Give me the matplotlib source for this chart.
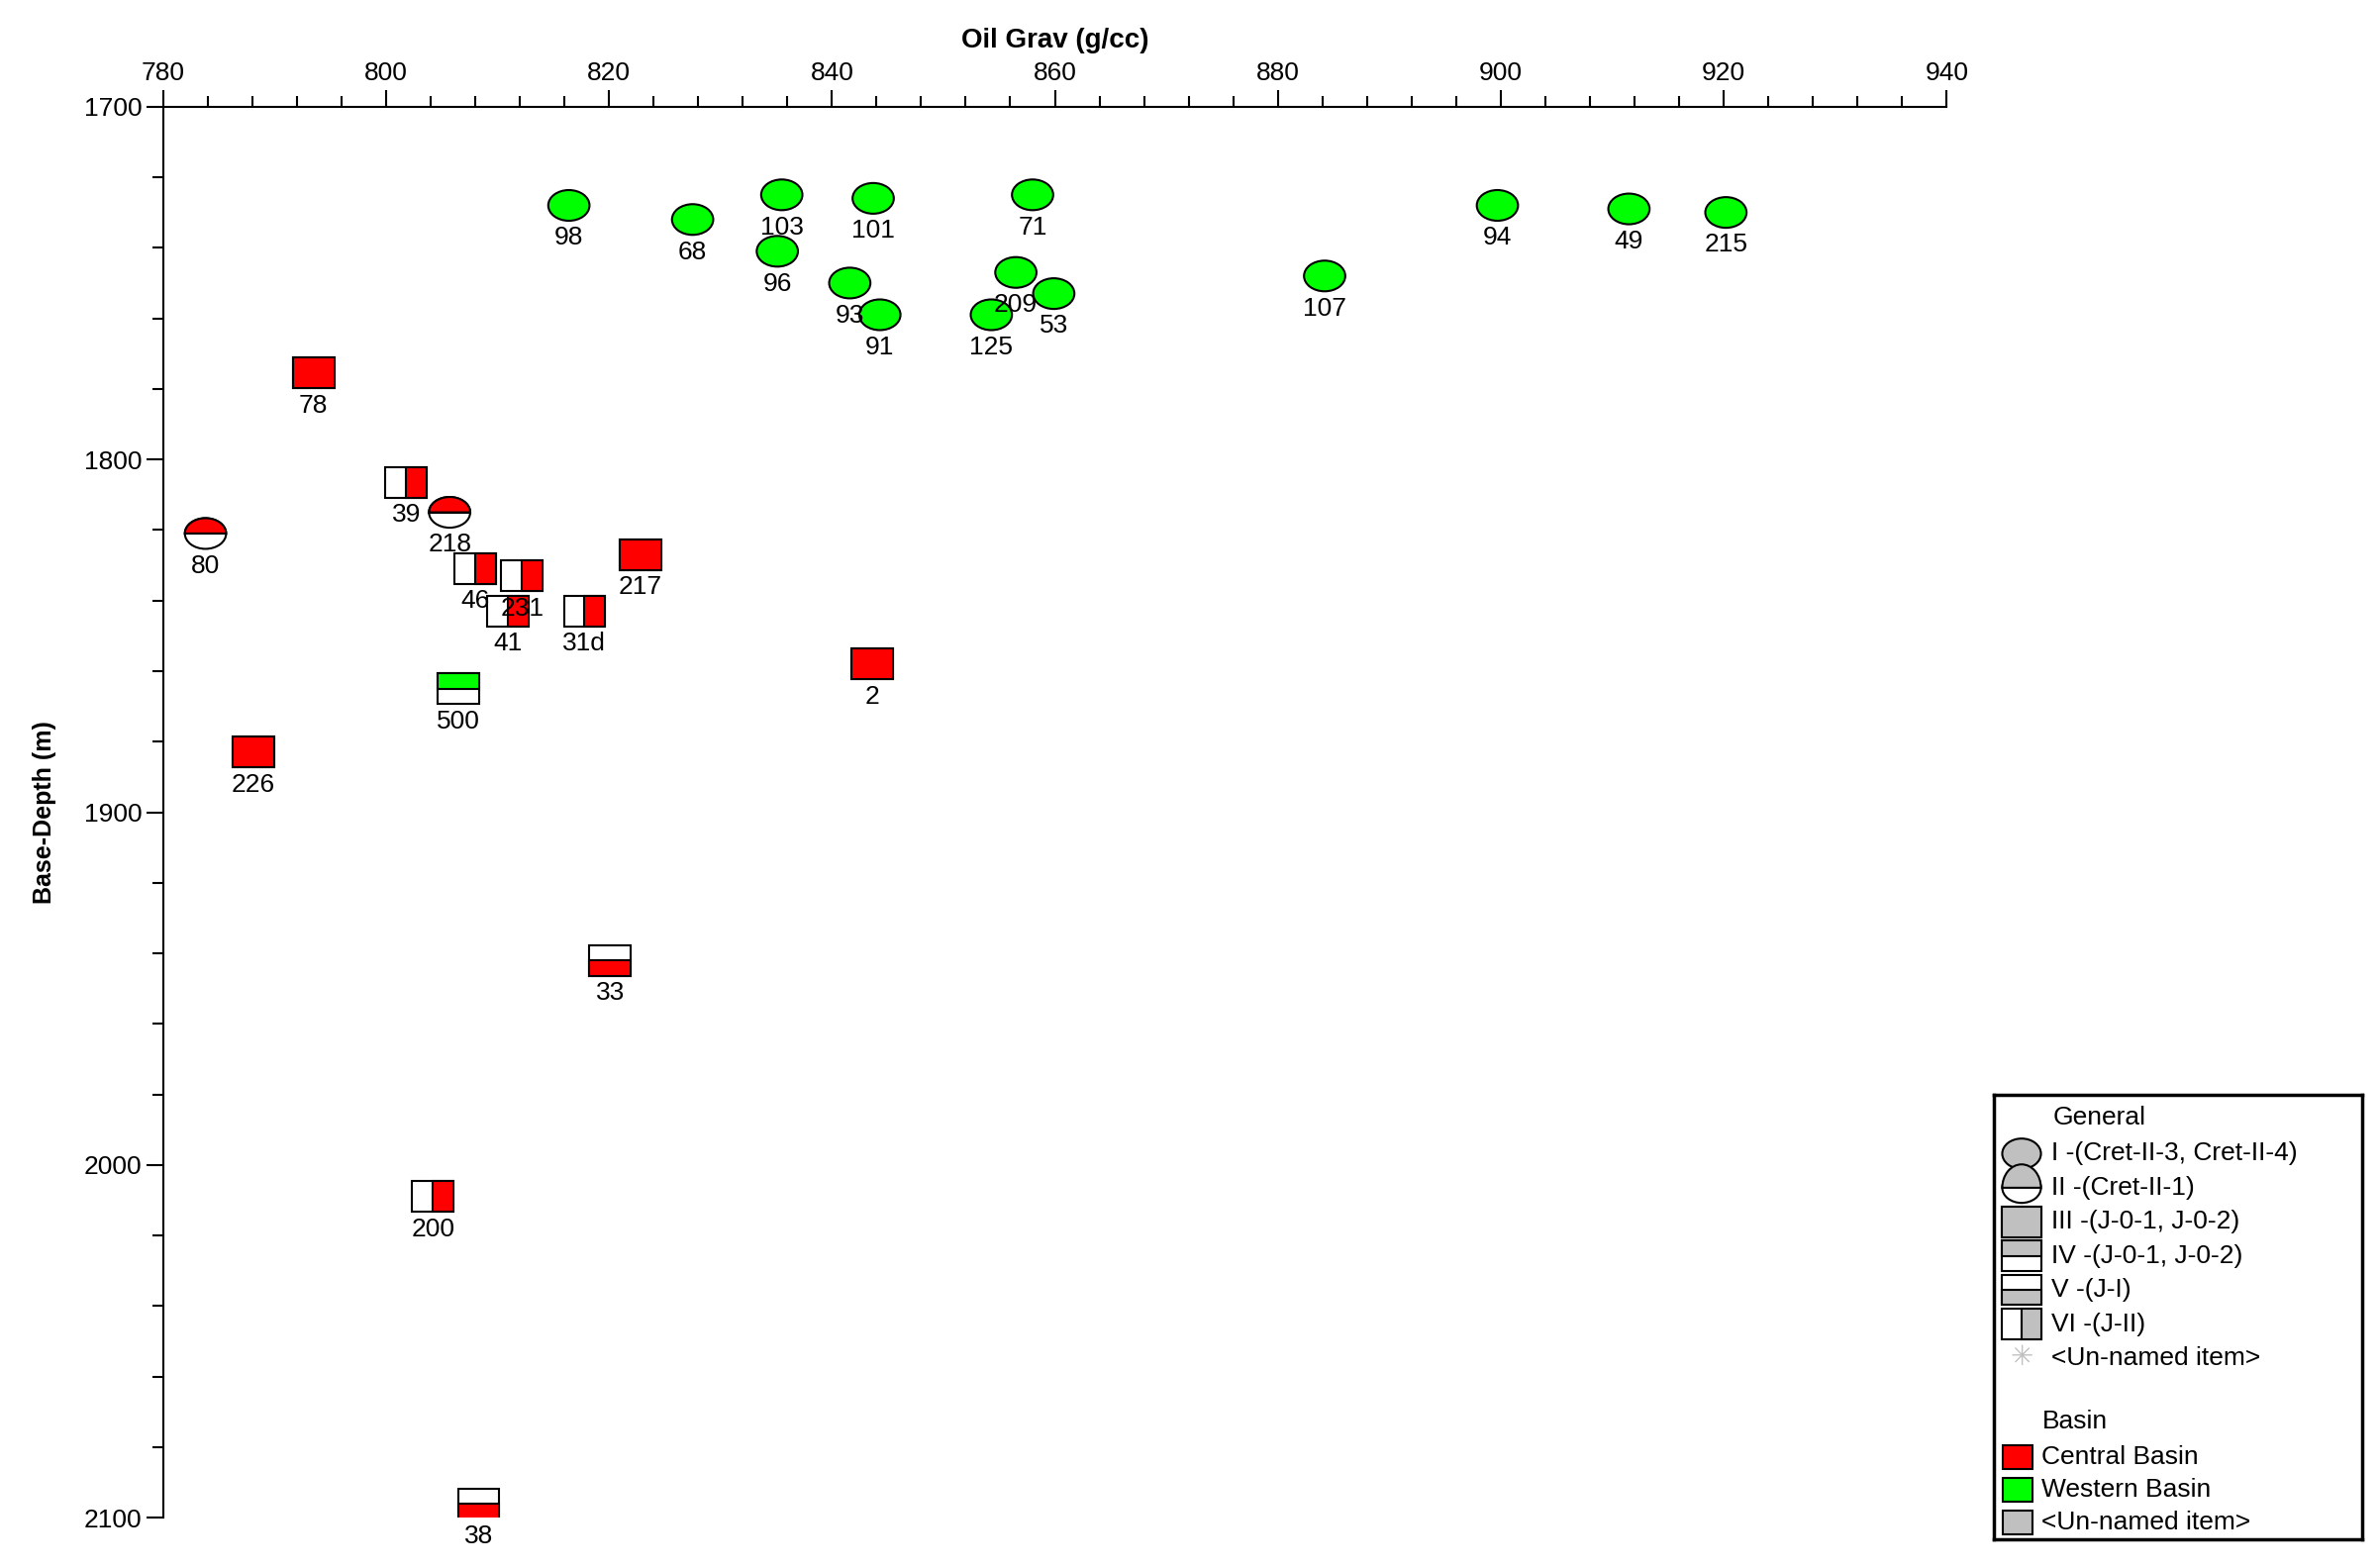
import matplotlib
matplotlib.use("Agg")
import matplotlib.pyplot as plt
from matplotlib.patches import Ellipse, Rectangle, Wedge
from matplotlib.ticker import MultipleLocator
from matplotlib.legend_handler import HandlerBase

plt.rcParams['font.family'] = ['Liberation Sans', 'DejaVu Sans']

RED = '#ff0000'
GREEN = '#00ff00'
GREY = '#c0c0c0'

# type: I ellipse, II half circle, III square, IV top filled, V bottom filled, VI right filled
labels = ['98', '68', '103', '101', '71', '94', '49', '215', '96', '93', '91', '209', '125', '53', '107',
          '78', '217', '2', '226',
          '39', '46', '231', '41', '31d', '200',
          '80', '218', '500', '33', '38']
grav = [816.4, 827.5, 835.5, 843.7, 858.0, 899.7, 911.5, 920.2, 835.1, 841.6, 844.3, 856.5, 854.3, 859.9, 884.2,
        793.5, 822.8, 843.6, 788.1,
        801.8, 808.0, 812.2, 810.9, 817.8, 804.2,
        783.8, 805.7, 806.5, 820.1, 808.3]
depth = [1728, 1732, 1725, 1726, 1725, 1728, 1729, 1730, 1741, 1750, 1759, 1747, 1759, 1753, 1748,
         1775.5, 1827, 1858, 1883,
         1806.6, 1831, 1833, 1843, 1843, 2009,
         1821, 1815, 1865, 1942, 2096]
kind = ['I'] * 15 + ['III'] * 4 + ['VI'] * 6 + ['II', 'II', 'IV', 'V', 'V']
basin = ['W'] * 15 + ['C'] * 4 + ['C'] * 6 + ['C', 'C', 'W', 'C', 'C']

W, H = 3.7, 8.7  # marker size in data units


def draw_marker(ax, x, y, k, col, w=W, h=H, lw=1.5):
    if k == 'I':
        ax.add_patch(Ellipse((x, y), w, h, fc=col, ec='black', lw=lw, zorder=3))
    elif k == 'II':
        ax.add_patch(Ellipse((x, y), w, h, fc='white', ec='black', lw=lw, zorder=3))
        # upper half (y axis inverted: smaller depth is up)
        import numpy as np
        t = np.linspace(0, np.pi, 50)
        xs = x + w / 2 * np.cos(t)
        ys = y - h / 2 * np.sin(t)
        ax.fill(xs, ys, fc=col, ec='black', lw=lw, zorder=4)
        ax.plot([x - w / 2, x + w / 2], [y, y], color='black', lw=lw, zorder=5)
    else:
        x0, y0 = x - w / 2, y - h / 2
        ax.add_patch(Rectangle((x0, y0), w, h, fc='white', ec='black', lw=lw, zorder=3))
        if k == 'III':
            ax.add_patch(Rectangle((x0, y0), w, h, fc=col, ec='black', lw=lw, zorder=4))
        elif k == 'IV':
            ax.add_patch(Rectangle((x0, y0), w, h / 2, fc=col, ec='black', lw=lw, zorder=4))
        elif k == 'V':
            ax.add_patch(Rectangle((x0, y), w, h / 2, fc=col, ec='black', lw=lw, zorder=4))
        elif k == 'VI':
            ax.add_patch(Rectangle((x, y0), w / 2, h, fc=col, ec='black', lw=lw, zorder=4))


fig = plt.figure(figsize=(24.02, 15.84), dpi=100)
ax = fig.add_axes([0.0686, 0.032, 0.75, 0.9])
ax.set_xlim(780, 940)
ax.set_ylim(2100, 1700)

for x, y, k, b, lab in zip(grav, depth, kind, basin, labels):
    draw_marker(ax, x, y, k, RED if b == 'C' else GREEN)
    ax.text(x, y + H / 2 + 1.5, lab, ha='center', va='top', fontsize=19, zorder=6)

ax.xaxis.tick_top()
ax.xaxis.set_label_position('top')
ax.xaxis.set_major_locator(MultipleLocator(20))
ax.xaxis.set_minor_locator(MultipleLocator(4))
ax.yaxis.set_major_locator(MultipleLocator(100))
ax.yaxis.set_minor_locator(MultipleLocator(20))
ax.tick_params(which='major', length=12, width=1.5, labelsize=19, direction='out')
ax.tick_params(which='minor', length=8, width=1.5, direction='out')
for s in ['right', 'bottom']:
    ax.spines[s].set_visible(False)
for s in ['left', 'top']:
    ax.spines[s].set_linewidth(1.5)
ax.set_xlabel('Oil Grav (g/cc)', fontsize=20, fontweight='bold', labelpad=10)
ax.set_ylabel('Base-Depth (m)', fontsize=18, fontweight='bold', labelpad=20)

# legend drawn manually in figure coords
lax = fig.add_axes([0.8385, 0.018, 0.155, 0.284])
lax.set_xlim(0, 1)
lax.set_ylim(0, 1)
lax.set_xticks([])
lax.set_yticks([])
for s in lax.spines.values():
    s.set_linewidth(2.5)
items = ['I -(Cret-II-3, Cret-II-4)', 'II -(Cret-II-1)', 'III -(J-0-1, J-0-2)',
         'IV -(J-0-1, J-0-2)', 'V -(J-I)', 'VI -(J-II)']
kinds = ['I', 'II', 'III', 'IV', 'V', 'VI']
step = 0.0765
lax.text(0.16, 0.947, 'General', fontsize=19, va='center')
y = 0.867
for it, k in zip(items, kinds):
    lax.text(0.155, y, it, fontsize=19, va='center')
    # draw in flipped coords: use helper with inverted-y logic
    w, h = 0.105, 0.068
    x0 = 0.075
    if k == 'I':
        lax.add_patch(Ellipse((x0, y), w, h, fc=GREY, ec='black', lw=1.5))
    elif k == 'II':
        lax.add_patch(Ellipse((x0, y), w, h, fc='white', ec='black', lw=1.5))
        lax.add_patch(Wedge((x0, y), w / 2, 0, 180, fc=GREY, ec='black', lw=1.5,
                            transform=lax.transData))
    else:
        lax.add_patch(Rectangle((x0 - w / 2, y - h / 2), w, h, fc='white', ec='black', lw=1.5))
        if k == 'III':
            lax.add_patch(Rectangle((x0 - w / 2, y - h / 2), w, h, fc=GREY, ec='black', lw=1.5))
        elif k == 'IV':
            lax.add_patch(Rectangle((x0 - w / 2, y), w, h / 2, fc=GREY, ec='black', lw=1.5))
        elif k == 'V':
            lax.add_patch(Rectangle((x0 - w / 2, y - h / 2), w, h / 2, fc=GREY, ec='black', lw=1.5))
        elif k == 'VI':
            lax.add_patch(Rectangle((x0, y - h / 2), w / 2, h, fc=GREY, ec='black', lw=1.5))
    y -= step
lax.plot([0.075], [y], marker='*', ms=0, color=GREY)
lax.text(0.075, y, '\u2733', fontsize=20, color=GREY, ha='center', va='center')
lax.text(0.155, y, '<Un-named item>', fontsize=19, va='center')
lax.text(0.13, 0.265, 'Basin', fontsize=19, va='center')
for yy, lab, c in [(0.185, 'Central Basin', RED), (0.112, 'Western Basin', GREEN),
                   (0.039, '<Un-named item>', GREY)]:
    lax.add_patch(Rectangle((0.025, yy - 0.027), 0.08, 0.054, fc=c, ec='black', lw=1.5))
    lax.text(0.13, yy, lab, fontsize=19, va='center')

fig.savefig('out.png', dpi=100)
